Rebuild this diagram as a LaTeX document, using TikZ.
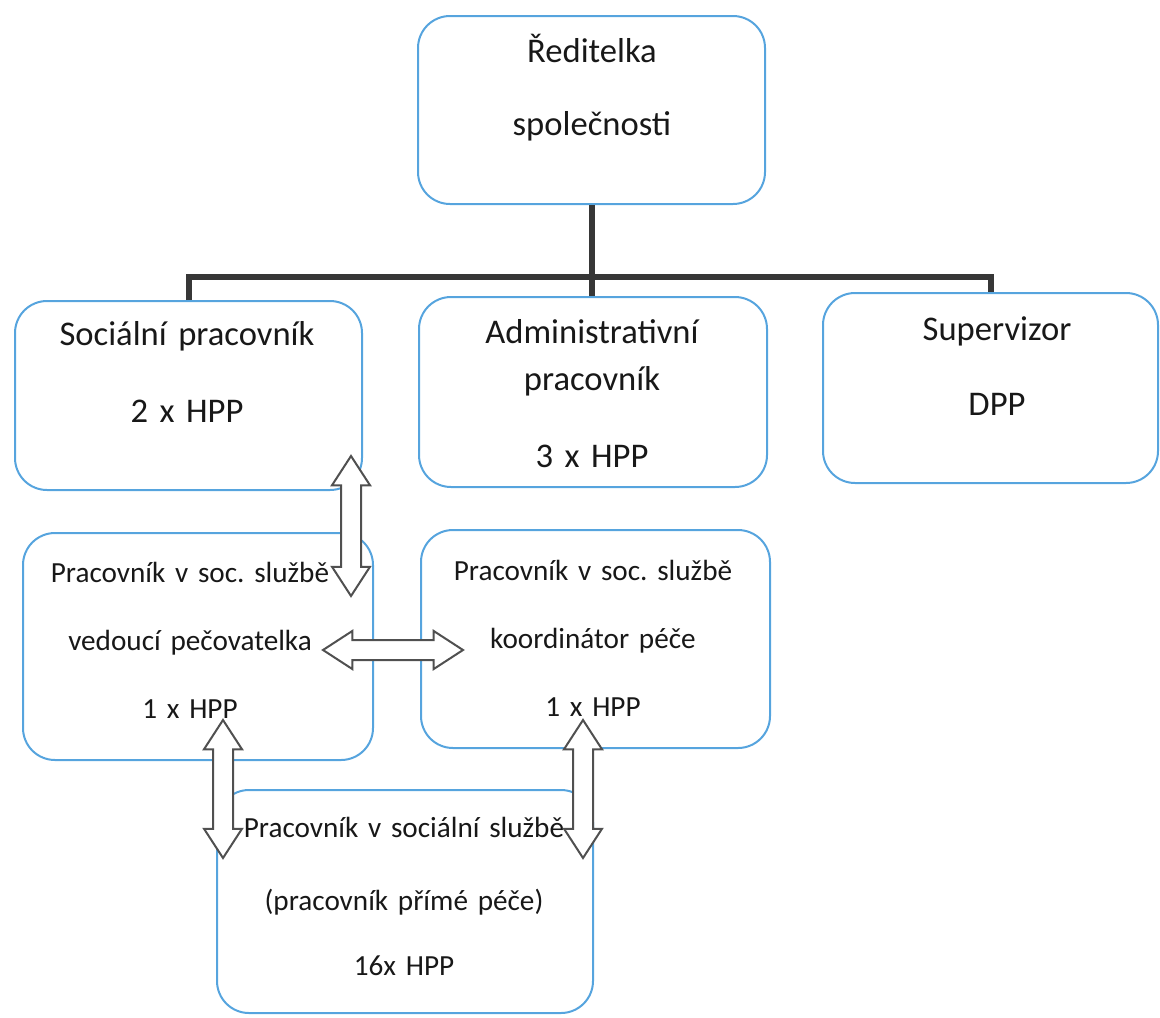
\documentclass[tikz,border=0pt]{standalone}
\usepackage{fontspec}
\setmainfont{Carlito}
\frenchspacing
\usetikzlibrary{shapes.arrows}
\definecolor{boxblue}{RGB}{86,164,222}
\definecolor{linegray}{RGB}{55,55,55}
\definecolor{arrgray}{RGB}{80,80,80}
\definecolor{txtgray}{RGB}{24,24,24}
\begin{document}
\begin{tikzpicture}[x=0.5pt,y=-0.5pt,
  box/.style 2 args={draw=boxblue,line width=1pt,rounded corners=16pt,minimum width=#1,minimum height=#2},
  txt/.style={text=txtgray,text width=180pt,align=center,anchor=base,inner sep=0pt,font=\fontsize{17.3}{#1}\selectfont},
  stxt/.style={txt=#1,font=\fontsize{14.6}{#1}\selectfont},
  conn/.style={draw=linegray,line width=3pt},
  dblarr/.style={double arrow,draw=arrgray,fill=white,line width=1pt,inner sep=4.5pt,
    double arrow head extend=4.5pt,double arrow tip angle=66,minimum height=70pt}]
\useasboundingbox (0,0) rectangle (1160,1017);
\node[box={173.5pt}{94pt}] (dir) at (591.5,110) {};
\node[box={173.5pt}{94.5pt}] (soc) at (188.5,395.5) {};
\node[box={174pt}{95pt}] (adm) at (593,392) {};
\node[box={167.5pt}{95pt}] (sup) at (990.5,388) {};
\node[box={175pt}{113.5pt}] (ved) at (198,646.5) {};
\node[box={174.5pt}{109pt}] (koo) at (595.5,639) {};
\node[box={188pt}{111.5pt}] (ppp) at (405,901.5) {};
\coordinate (bus) at (593,277);
\draw[conn] (dir.south) -- (dir.south |- adm.north);
\draw[conn] (soc.north) |- (bus) -| (sup.north);
\node[txt=36.5pt] (tdir) at (592,62) {Ředitelka\\společnosti};
\node[txt=38.5pt] (tsoc) at (187,345) {Sociální pracovník\\2 x HPP};
\node[txt=23.5pt] (tadm) at (592,343) {Administrativní\\pracovník\\[15pt]3 x HPP};
\node[txt=37.5pt] (tsup) at (997,340) {Supervizor\\DPP};
\node[stxt=34pt] (tved) at (190,582) {Pracovník v soc. službě\\vedoucí pečovatelka\\1 x HPP};
\node[stxt=34pt] (tkoo) at (593,580) {Pracovník v soc. službě\\koordinátor péče\\1 x HPP};
\node[stxt=36.5pt] (tppp) at (404,837) {Pracovník v sociální službě\\(pracovník přímé péče)\\[-4pt]16x HPP};
\node[dblarr,rotate=90] (a1) at (351,526) {};
\node[dblarr] (a2) at (393,650) {};
\node[dblarr,rotate=90,minimum height=69pt] (a3) at (223,789) {};
\node[dblarr,rotate=90,minimum height=69pt] (a4) at (583,789) {};
\end{tikzpicture}
\end{document}
